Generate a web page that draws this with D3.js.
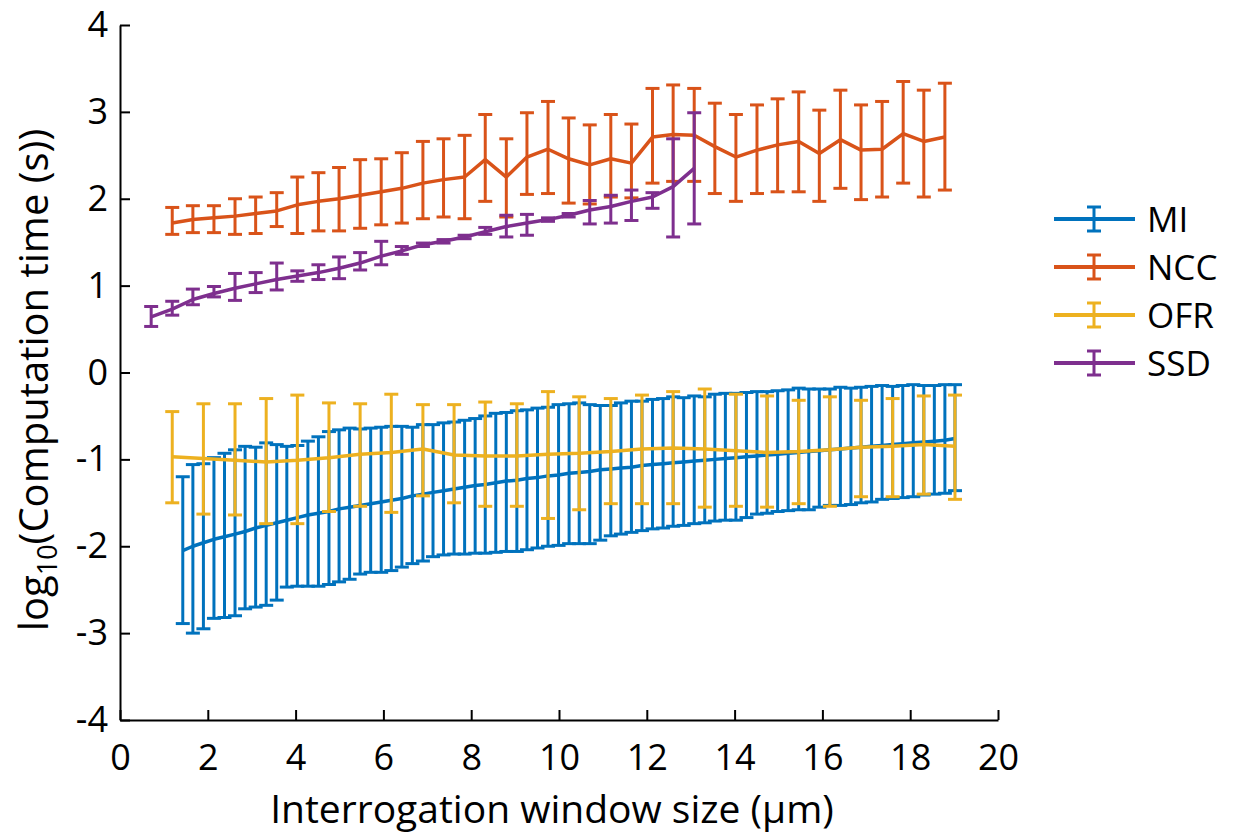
<!DOCTYPE html>
<html><head><meta charset="utf-8">
<script src="https://cdn.jsdelivr.net/npm/d3@7"></script>
<style>body{margin:0;background:#fff}svg{display:block}text{font-family:"Open Sans",sans-serif;fill:#000}</style>
</head><body><svg id="c" width="1250" height="837"></svg>
<script>
const seriesNames = ["MI","NCC","OFR","SSD"];
const seriesColors = ["#0072BD","#D95319","#EDB120","#7E2F8E"];
const xTicks = [0,2,4,6,8,10,12,14,16,18,20];
const yTicks = [-4,-3,-2,-1,0,1,2,3,4];

const miX = [1.43,1.66,1.90,2.14,2.38,2.62,2.85,3.09,3.33,3.57,3.80,4.04,4.28,4.52,4.76,4.99,5.23,5.47,5.71,5.95,6.18,6.42,6.66,6.90,7.13,7.37,7.61,7.85,8.09,8.32,8.56,8.80,9.04,9.27,9.51,9.75,9.99,10.23,10.46,10.70,10.94,11.18,11.41,11.65,11.89,12.13,12.37,12.60,12.84,13.08,13.32,13.55,13.79,14.03,14.27,14.51,14.74,14.98,15.22,15.46,15.69,15.93,16.17,16.41,16.65,16.88,17.12,17.36,17.60,17.83,18.07,18.31,18.55,18.79,19.02];
const miMean = [-2.05,-2.00,-1.96,-1.92,-1.89,-1.86,-1.83,-1.79,-1.76,-1.73,-1.70,-1.67,-1.64,-1.62,-1.60,-1.57,-1.55,-1.53,-1.51,-1.49,-1.47,-1.45,-1.42,-1.40,-1.38,-1.36,-1.34,-1.32,-1.30,-1.29,-1.27,-1.25,-1.24,-1.22,-1.21,-1.19,-1.18,-1.16,-1.15,-1.14,-1.12,-1.11,-1.10,-1.09,-1.07,-1.06,-1.05,-1.04,-1.03,-1.02,-1.01,-1.00,-0.99,-0.98,-0.97,-0.96,-0.95,-0.94,-0.93,-0.92,-0.91,-0.90,-0.89,-0.88,-0.87,-0.86,-0.85,-0.84,-0.83,-0.82,-0.81,-0.80,-0.79,-0.78,-0.76];
const miHi = [-1.20,-1.06,-1.05,-0.98,-0.93,-0.89,-0.85,-0.86,-0.81,-0.83,-0.85,-0.84,-0.79,-0.74,-0.68,-0.66,-0.64,-0.65,-0.64,-0.63,-0.62,-0.62,-0.63,-0.60,-0.60,-0.58,-0.57,-0.55,-0.53,-0.50,-0.47,-0.46,-0.44,-0.43,-0.41,-0.40,-0.37,-0.36,-0.35,-0.37,-0.38,-0.38,-0.35,-0.33,-0.33,-0.31,-0.30,-0.28,-0.29,-0.27,-0.28,-0.25,-0.24,-0.24,-0.23,-0.22,-0.22,-0.21,-0.20,-0.18,-0.19,-0.19,-0.19,-0.17,-0.18,-0.17,-0.16,-0.15,-0.16,-0.15,-0.14,-0.15,-0.15,-0.14,-0.14];
const miLo = [-2.89,-3.00,-2.95,-2.83,-2.82,-2.80,-2.72,-2.70,-2.68,-2.62,-2.47,-2.46,-2.46,-2.46,-2.44,-2.41,-2.38,-2.32,-2.30,-2.30,-2.28,-2.24,-2.20,-2.17,-2.12,-2.10,-2.09,-2.09,-2.08,-2.08,-2.07,-2.06,-2.06,-2.04,-2.02,-2.00,-1.99,-1.97,-1.97,-1.97,-1.93,-1.88,-1.86,-1.84,-1.82,-1.80,-1.79,-1.77,-1.76,-1.74,-1.73,-1.71,-1.70,-1.70,-1.67,-1.63,-1.62,-1.60,-1.59,-1.58,-1.58,-1.55,-1.53,-1.53,-1.52,-1.50,-1.49,-1.46,-1.45,-1.44,-1.43,-1.41,-1.40,-1.39,-1.36];

const nccX = [1.19,1.66,2.14,2.62,3.09,3.57,4.04,4.52,4.99,5.47,5.95,6.42,6.90,7.37,7.85,8.32,8.80,9.27,9.75,10.22,10.70,11.18,11.65,12.13,12.60,13.08,13.55,14.03,14.51,14.98,15.46,15.93,16.41,16.88,17.36,17.84,18.31,18.79];
const nccMean = [1.72,1.76,1.78,1.80,1.83,1.86,1.93,1.97,2.00,2.04,2.08,2.12,2.18,2.22,2.25,2.45,2.25,2.48,2.57,2.46,2.39,2.46,2.41,2.71,2.74,2.73,2.60,2.48,2.56,2.62,2.66,2.52,2.68,2.56,2.57,2.75,2.66,2.71];
const nccHi = [1.90,1.92,1.92,2.00,2.02,2.07,2.25,2.30,2.36,2.45,2.46,2.53,2.66,2.69,2.73,2.97,2.69,2.99,3.12,2.93,2.85,2.97,2.86,3.27,3.31,3.27,3.10,2.97,3.08,3.15,3.23,3.02,3.25,3.08,3.12,3.35,3.25,3.33];
const nccLo = [1.59,1.61,1.61,1.59,1.60,1.68,1.60,1.63,1.63,1.66,1.70,1.72,1.77,1.79,1.77,1.97,1.79,2.05,2.06,1.95,1.94,2.02,2.01,2.18,2.20,2.20,2.06,1.97,2.06,2.08,2.08,1.97,2.12,1.99,2.02,2.18,2.02,2.10];

const ofrX = [1.19,1.90,2.62,3.33,4.04,4.76,5.47,6.18,6.90,7.61,8.32,9.04,9.75,10.46,11.18,11.89,12.60,13.32,14.03,14.74,15.46,16.17,16.88,17.60,18.31,19.02];
const ofrMean = [-0.97,-0.99,-1.01,-1.03,-1.01,-0.98,-0.94,-0.92,-0.88,-0.95,-0.96,-0.96,-0.94,-0.93,-0.91,-0.88,-0.87,-0.88,-0.90,-0.92,-0.91,-0.89,-0.86,-0.85,-0.83,-0.85];
const ofrHi = [-0.45,-0.36,-0.36,-0.30,-0.26,-0.35,-0.36,-0.25,-0.37,-0.37,-0.34,-0.36,-0.22,-0.28,-0.30,-0.26,-0.22,-0.19,-0.25,-0.27,-0.32,-0.28,-0.32,-0.30,-0.27,-0.26];
const ofrLo = [-1.50,-1.63,-1.64,-1.74,-1.74,-1.60,-1.54,-1.61,-1.42,-1.50,-1.54,-1.54,-1.68,-1.58,-1.51,-1.51,-1.51,-1.55,-1.54,-1.55,-1.51,-1.54,-1.43,-1.43,-1.40,-1.46];

const ssdX = [0.71,1.19,1.66,2.14,2.62,3.09,3.57,4.04,4.52,4.99,5.47,5.95,6.42,6.90,7.37,7.85,8.32,8.80,9.27,9.75,10.22,10.70,11.18,11.65,12.13,12.60,13.08];
const ssdMean = [0.64,0.73,0.84,0.91,0.97,1.02,1.07,1.11,1.15,1.20,1.26,1.34,1.40,1.47,1.51,1.56,1.62,1.68,1.72,1.76,1.81,1.87,1.91,1.97,2.02,2.14,2.35];
const ssdHi = [0.76,0.82,0.96,0.99,1.14,1.15,1.26,1.17,1.24,1.33,1.38,1.51,1.45,1.49,1.53,1.58,1.67,1.81,1.82,1.78,1.83,1.98,2.04,2.10,2.07,2.69,2.99];
const ssdLo = [0.53,0.66,0.78,0.87,0.83,0.92,0.95,1.05,1.07,1.08,1.18,1.24,1.36,1.45,1.49,1.54,1.59,1.56,1.58,1.74,1.79,1.71,1.72,1.75,1.89,1.56,1.71];

const series = [
  {x:miX, m:miMean, hi:miHi, lo:miLo},
  {x:nccX, m:nccMean, hi:nccHi, lo:nccLo},
  {x:ofrX, m:ofrMean, hi:ofrHi, lo:ofrLo},
  {x:ssdX, m:ssdMean, hi:ssdHi, lo:ssdLo}
];

const svg = d3.select("#c");
const x = d3.scaleLinear().domain([0,20]).range([120,998]);
const y = d3.scaleLinear().domain([-4,4]).range([720,25]);

const capW = 14, barW = 3, lineW = 3.5;

series.forEach((s,i)=>{
  const g = svg.append("g").attr("stroke", seriesColors[i]).attr("fill","none");
  const pts = s.x.map((xv,j)=>({x:xv, m:s.m[j], hi:s.hi[j], lo:s.lo[j]}));
  const bars = g.selectAll("g.eb").data(pts).enter().append("g");
  bars.append("line").attr("x1",d=>x(d.x)).attr("x2",d=>x(d.x)).attr("y1",d=>y(d.hi)).attr("y2",d=>y(d.lo)).attr("stroke-width",barW);
  bars.append("line").attr("x1",d=>x(d.x)-capW/2).attr("x2",d=>x(d.x)+capW/2).attr("y1",d=>y(d.hi)).attr("y2",d=>y(d.hi)).attr("stroke-width",barW);
  bars.append("line").attr("x1",d=>x(d.x)-capW/2).attr("x2",d=>x(d.x)+capW/2).attr("y1",d=>y(d.lo)).attr("y2",d=>y(d.lo)).attr("stroke-width",barW);
  g.append("path").datum(pts).attr("d", d3.line().x(d=>x(d.x)).y(d=>y(d.m))).attr("stroke-width",lineW).attr("stroke-linejoin","round");
});

// axes
const fmt = d => String(d);
const xAxis = d3.axisBottom(x).tickValues(xTicks).tickFormat(fmt).tickSizeInner(-10).tickSizeOuter(0).tickPadding(24);
const yAxis = d3.axisLeft(y).tickValues(yTicks).tickFormat(fmt).tickSizeInner(-10).tickSizeOuter(0).tickPadding(12);
const gx = svg.append("g").attr("transform","translate(0,720)").call(xAxis);
const gy = svg.append("g").attr("transform","translate(120,0)").call(yAxis);
[gx,gy].forEach(g=>{
  g.select(".domain").attr("stroke","#000").attr("stroke-width",2);
  g.selectAll(".tick line").attr("stroke","#000").attr("stroke-width",2);
  g.selectAll(".tick text").attr("font-size",36).attr("font-family","'Open Sans',sans-serif").attr("fill","#000");
});

// axis labels
svg.append("text").attr("x",552).attr("y",823).attr("text-anchor","middle").attr("font-size",39)
  .text("Interrogation window size (µm)");
const yl = svg.append("text").attr("transform","translate(48,380) rotate(-90)").attr("text-anchor","middle").attr("font-size",40);
yl.append("tspan").text("log");
yl.append("tspan").attr("font-size",27).attr("dy",9).text("10");
yl.append("tspan").attr("dy",-9).text("(Computation time (s))");

// legend
const legY = [219,267,315,363];
seriesNames.forEach((n,i)=>{
  const g = svg.append("g").attr("stroke",seriesColors[i]);
  const cy = legY[i], cx = 1094;
  g.append("line").attr("x1",1054).attr("x2",1135).attr("y1",cy).attr("y2",cy).attr("stroke-width",4);
  g.append("line").attr("x1",cx).attr("x2",cx).attr("y1",cy-12).attr("y2",cy+12).attr("stroke-width",3);
  g.append("line").attr("x1",cx-7).attr("x2",cx+7).attr("y1",cy-12).attr("y2",cy-12).attr("stroke-width",3);
  g.append("line").attr("x1",cx-7).attr("x2",cx+7).attr("y1",cy+12).attr("y2",cy+12).attr("stroke-width",3);
  svg.append("text").attr("x",1147).attr("y",cy+13).attr("font-size",35).text(n);
});
</script></body></html>
